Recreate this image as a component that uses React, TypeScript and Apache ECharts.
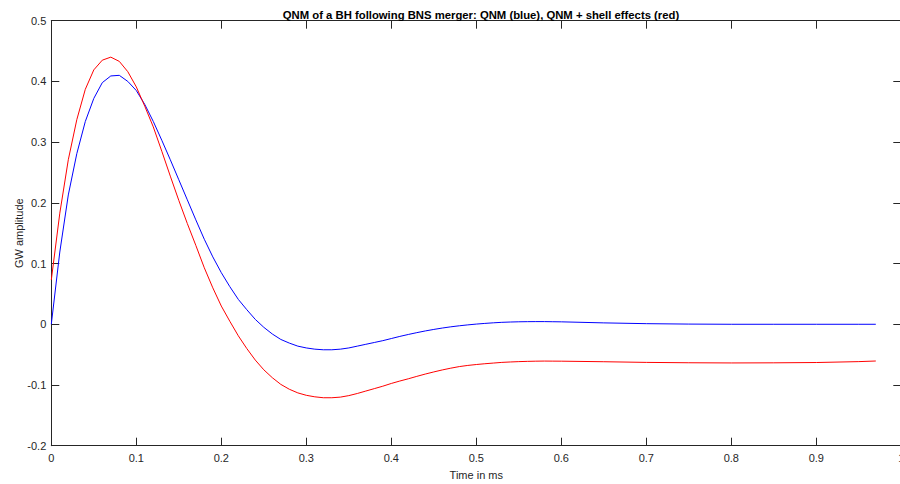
import React, { useEffect, useRef } from "react";
import * as echarts from "echarts";

const timeMs = [
  0, 0.01, 0.02, 0.03, 0.04, 0.05, 0.06, 0.07, 0.08, 0.09,
  0.1, 0.11, 0.12, 0.13, 0.14, 0.15, 0.16, 0.17, 0.18, 0.19,
  0.2, 0.21, 0.22, 0.23, 0.24, 0.25, 0.26, 0.27, 0.28, 0.29,
  0.3, 0.31, 0.32, 0.33, 0.34, 0.35, 0.36, 0.37, 0.38, 0.39,
  0.4, 0.41, 0.42, 0.43, 0.44, 0.45, 0.46, 0.47, 0.48, 0.49,
  0.5, 0.51, 0.52, 0.53, 0.54, 0.55, 0.56, 0.57, 0.58, 0.59,
  0.6, 0.65, 0.7, 0.75, 0.8, 0.85, 0.9, 0.95, 0.97,
];

const qnmBlue = [
  0, 0.119, 0.213, 0.281, 0.334, 0.372, 0.398, 0.409, 0.41, 0.4,
  0.385, 0.362, 0.334, 0.303, 0.271, 0.238, 0.205, 0.172, 0.14, 0.111,
  0.085, 0.062, 0.041, 0.024, 0.008, -0.005, -0.016, -0.025, -0.031, -0.036,
  -0.039, -0.041, -0.042, -0.042, -0.041, -0.039, -0.036, -0.033, -0.03, -0.027,
  -0.0235, -0.02, -0.0168, -0.0138, -0.011, -0.0085, -0.0062, -0.0042, -0.0025, -0.001,
  0.0003, 0.0014, 0.0024, 0.0032, 0.0037, 0.0041, 0.0043, 0.0044, 0.0044, 0.0042,
  0.004, 0.0023, 0.001, 0.0003, 0, 0, 0, 0, 0,
];

const qnmShellRed = [
  0.073, 0.183, 0.271, 0.337, 0.387, 0.419, 0.435, 0.44, 0.433, 0.416,
  0.391, 0.359, 0.325, 0.285, 0.244, 0.204, 0.166, 0.13, 0.093, 0.06,
  0.03, 0.005, -0.019, -0.04, -0.059, -0.075, -0.088, -0.099, -0.107, -0.113,
  -0.117, -0.1195, -0.121, -0.121, -0.12, -0.1175, -0.114, -0.11, -0.106, -0.102,
  -0.0975, -0.0935, -0.0898, -0.0858, -0.082, -0.0785, -0.0752, -0.0723, -0.0697, -0.0678,
  -0.0663, -0.065, -0.0639, -0.0628, -0.0621, -0.0615, -0.0611, -0.0608, -0.0606, -0.0607,
  -0.0608, -0.0617, -0.0628, -0.0634, -0.0637, -0.0635, -0.063, -0.0615, -0.0605,
];

const xTicks = { min: 0, max: 1, interval: 0.1 };
const yTicks = { min: -0.2, max: 0.5, interval: 0.1 };

const titleText = "QNM of a BH following BNS merger: QNM (blue), QNM + shell effects (red)";
const xName = "Time in ms";
const yName = "GW amplitude";

export default function App() {
  const ref = useRef<HTMLDivElement>(null);
  useEffect(() => {
    if (!ref.current) return;
    const chart = echarts.init(ref.current, undefined, { renderer: "svg" });
    const axisColor = "#262626";
    const font = "'Liberation Sans', Arial, Helvetica, sans-serif";
    const baseAxis = {
      axisLine: { show: true, onZero: false, lineStyle: { color: axisColor, width: 1 } },
      axisTick: { show: true, inside: true, length: 8, lineStyle: { color: axisColor, width: 1 } },
      splitLine: { show: false },
    };
    chart.setOption({
      animation: false,
      backgroundColor: "#ffffff",
      title: {
        text: titleText,
        left: 476,
        top: 4,
        textAlign: "center",
        textStyle: { fontFamily: font, fontSize: 11.3, fontWeight: "bold", color: "#000" },
      },
      grid: {
        left: 51.3,
        top: 20.7,
        width: 850,
        height: 425,
        containLabel: false,
        outerBoundsMode: "none",
      },
      xAxis: [
        {
          type: "value",
          ...xTicks,
          ...baseAxis,
          name: xName,
          nameLocation: "middle",
          nameGap: 24,
          nameMoveOverlap: false,
          nameTextStyle: { fontFamily: font, fontSize: 11, color: axisColor },
          axisLabel: { margin: 7, fontFamily: font, fontSize: 11, color: axisColor },
        },
        {
          type: "value",
          position: "top",
          ...xTicks,
          ...baseAxis,
          axisLabel: { show: false },
        },
      ],
      yAxis: [
        {
          type: "value",
          ...yTicks,
          ...baseAxis,
          name: yName,
          nameLocation: "middle",
          nameRotate: 90,
          nameGap: 27,
          nameMoveOverlap: false,
          nameTextStyle: { fontFamily: font, fontSize: 11, color: axisColor },
          axisLabel: { margin: 5, fontFamily: font, fontSize: 11, color: axisColor },
        },
        {
          type: "value",
          position: "right",
          ...yTicks,
          ...baseAxis,
          axisLabel: { show: false },
        },
      ],
      series: [
        {
          name: "QNM",
          type: "line",
          data: timeMs.map((t, i) => [t, qnmBlue[i]]),
          showSymbol: false,
          lineStyle: { color: "#0000ff", width: 1 },
          itemStyle: { color: "#0000ff" },
        },
        {
          name: "QNM + shell effects",
          type: "line",
          data: timeMs.map((t, i) => [t, qnmShellRed[i]]),
          showSymbol: false,
          lineStyle: { color: "#ff0000", width: 1 },
          itemStyle: { color: "#ff0000" },
        },
      ],
    });
    return () => chart.dispose();
  }, []);
  return (
    <div
      ref={ref}
      style={{ position: "fixed", left: 0, top: 0, width: 900, height: 484, background: "#fff" }}
    />
  );
}
